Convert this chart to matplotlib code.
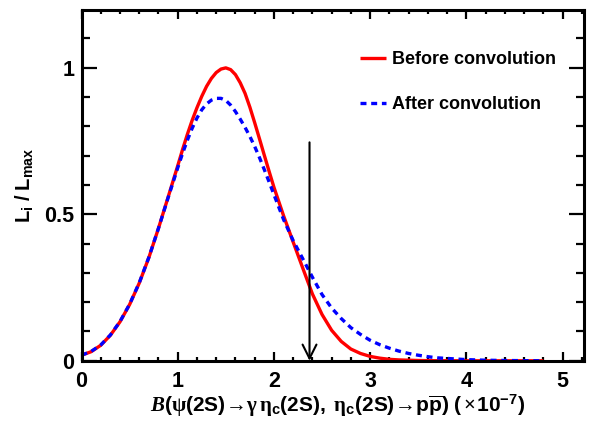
"""
Likelihood scan before/after convolution with systematic uncertainty,
with the 90% C.L. upper limit marked by an arrow.
"""

import numpy as np
import matplotlib
matplotlib.use("Agg")
import matplotlib.pyplot as plt
from matplotlib.ticker import MultipleLocator

# Branching fraction (x 1e-7) sampled along the scan (finer around the peak)
bf = [0.0, 0.1, 0.2, 0.3, 0.4, 0.5, 0.6, 0.7, 0.8, 0.9,
      1.0, 1.05, 1.1, 1.15, 1.2, 1.25, 1.3, 1.35, 1.4, 1.45,
      1.5, 1.55, 1.6, 1.65, 1.7, 1.75, 1.8, 1.85, 1.9, 1.95,
      2.0, 2.1, 2.2, 2.3, 2.4, 2.5, 2.6, 2.7, 2.8, 2.9,
      3.0, 3.1, 3.2, 3.3, 3.4, 3.5, 3.6, 3.7, 3.8, 3.9,
      4.0, 4.2, 4.4, 4.6, 4.8]

# L_i / L_max before convolution (red solid)
like_before = [0.019, 0.031, 0.053, 0.087, 0.133, 0.192, 0.265, 0.352, 0.452, 0.558,
               0.665, 0.720, 0.772, 0.820, 0.863, 0.902, 0.936, 0.963, 0.983, 0.995,
               0.999, 0.993, 0.976, 0.948, 0.912, 0.865, 0.812, 0.757, 0.701, 0.646,
               0.592, 0.495, 0.405, 0.316, 0.228, 0.158, 0.104, 0.066, 0.040, 0.025,
               0.015, 0.009, 0.005, 0.003, 0.002, 0.001, 0.0005, 0.0003, 0.0002, 0.0001,
               0.0, 0.0, 0.0, 0.0, 0.0]

# L_i / L_max after convolution (blue dashed)
like_after = [0.019, 0.032, 0.054, 0.088, 0.134, 0.193, 0.266, 0.353, 0.452, 0.556,
              0.658, 0.707, 0.752, 0.793, 0.828, 0.856, 0.876, 0.889, 0.895, 0.895,
              0.888, 0.872, 0.850, 0.824, 0.796, 0.765, 0.731, 0.693, 0.652, 0.610,
              0.567, 0.482, 0.410, 0.348, 0.285, 0.226, 0.180, 0.144, 0.113, 0.090,
              0.070, 0.055, 0.043, 0.033, 0.025, 0.019, 0.014, 0.010, 0.008, 0.006,
              0.004, 0.002, 0.001, 0.0005, 0.0]

upper_limit = 2.37
arrow_top = 0.745

plt.rcParams["font.family"] = ["Liberation Sans", "DejaVu Sans"]
plt.rcParams["font.weight"] = "bold"
plt.rcParams["mathtext.fontset"] = "custom"
plt.rcParams["mathtext.rm"] = "Liberation Serif"
plt.rcParams["mathtext.it"] = "Liberation Serif:italic"
plt.rcParams["mathtext.bf"] = "Liberation Sans:bold"
plt.rcParams["lines.scale_dashes"] = False


def main():
    fig = plt.figure(figsize=(5.95, 4.21), dpi=100)
    ax = fig.add_axes([0.137, 0.143, 0.844, 0.833])

    ax.plot(bf, like_before, color="#ff0000", lw=2.4, label="Before convolution",
            solid_capstyle="butt", solid_joinstyle="round")
    ax.plot(bf, like_after, color="#0000ff", lw=2.4, dashes=(4.3, 3.4),
            label="After convolution")

    # upper limit arrow
    ax.annotate("", xy=(upper_limit, 0.0), xytext=(upper_limit, arrow_top),
                arrowprops=dict(arrowstyle="->,head_length=1.0,head_width=0.5",
                                color="black", lw=1.5, shrinkA=0, shrinkB=0))

    ax.set_xlim(0, 5.22)
    ax.set_ylim(0, 1.196)
    ax.xaxis.set_major_locator(MultipleLocator(1))
    ax.xaxis.set_minor_locator(MultipleLocator(0.2))
    ax.yaxis.set_major_locator(MultipleLocator(0.5))
    ax.yaxis.set_minor_locator(MultipleLocator(0.1))
    ax.yaxis.set_major_formatter(plt.FuncFormatter(lambda v, p: "%g" % v))
    ax.xaxis.set_major_formatter(plt.FuncFormatter(lambda v, p: "%g" % v))

    for s in ax.spines.values():
        s.set_linewidth(2.2)
    ax.tick_params(axis="both", which="both", direction="in", top=True, right=True,
                   width=1.6, labelsize=15.5)
    ax.tick_params(axis="x", which="major", length=6.5, pad=7)
    ax.tick_params(axis="x", which="minor", length=3.2)
    ax.tick_params(axis="y", which="major", length=10.5, pad=5)
    ax.tick_params(axis="y", which="minor", length=5.5)

    ax.set_ylabel(r"$\mathbf{L_i\ /\ L_{max}}$", fontsize=14.5)
    ax.yaxis.set_label_coords(-0.09, 0.5)
    ax.set_xlabel(r"$\mathit{B}\mathbf{(}\mathrm{\psi}\mathbf{(2S)}\!\rightarrow\!\mathrm{\gamma\,\eta}_{\mathbf{c}}"
                  r"\mathbf{(2S),\ }\mathrm{\eta}_{\mathbf{c}}\mathbf{(2S)}\!\rightarrow\!"
                  r"\mathbf{p\overline{p})\ (}\times\!\mathbf{10^{-7})}$", fontsize=15,
                  va="top")
    ax.xaxis.set_label_coords(0.51, -0.09)

    ax.legend(loc="upper left", bbox_to_anchor=(0.522, 0.93), frameon=False,
              fontsize=13, handlelength=1.44, handletextpad=0.33,
              labelspacing=1.55)

    fig.savefig("out.png", dpi=100)
    plt.close(fig)


if __name__ == "__main__":
    main()
